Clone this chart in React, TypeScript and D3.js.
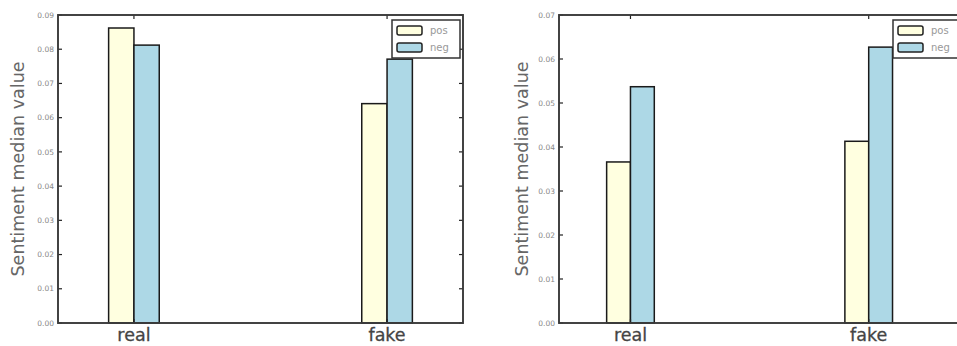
import React from "react";
import * as d3 from "d3";

const categories = ["real", "fake"];
const seriesNames = ["pos", "neg"];
const seriesColors = ["#ffffe0", "#add8e6"];
const leftPos = [0.0862, 0.0641];
const leftNeg = [0.0812, 0.0771];
const rightPos = [0.0366, 0.0413];
const rightNeg = [0.0537, 0.0627];
const leftTicks = [0, 0.01, 0.02, 0.03, 0.04, 0.05, 0.06, 0.07, 0.08, 0.09];
const rightTicks = [0, 0.01, 0.02, 0.03, 0.04, 0.05, 0.06, 0.07];
const yLabel = "Sentiment median value";

const FONT = "'DejaVu Sans', sans-serif";

type PanelProps = {
  x0: number;
  x1: number;
  y0: number;
  y1: number;
  xMax: number;
  yMax: number;
  ticks: number[];
  pos: number[];
  neg: number[];
  labelX: number;
};

function Panel({ x0, x1, y0, y1, xMax, yMax, ticks, pos, neg, labelX }: PanelProps) {
  const x = d3.scaleLinear().domain([-0.3, xMax]).range([x0, x1]);
  const y = d3.scaleLinear().domain([0, yMax]).range([y1, y0]);
  const w = 0.1;
  const series = [pos, neg];
  const tickLen = 4;
  const legW = 68;
  const legH = 38;
  const legX = x1 - 3 - legW;
  const legY = y0 + 5;
  return (
    <g>
      {series.map((vals, si) =>
        vals.map((v, ci) => (
          <rect
            key={`${si}-${ci}`}
            x={x(ci + (si === 0 ? -w : 0))}
            y={y(v)}
            width={x(ci + w) - x(ci)}
            height={y(0) - y(v)}
            fill={seriesColors[si]}
            stroke="#1a1a1a"
            strokeWidth={1.5}
          />
        ))
      )}
      {ticks.map((t) => (
        <g key={t}>
          <line x1={x0} x2={x0 + tickLen} y1={y(t)} y2={y(t)} stroke="#222" strokeWidth={1.2} />
          <line x1={x1} x2={x1 - tickLen} y1={y(t)} y2={y(t)} stroke="#222" strokeWidth={1.2} />
          <text
            x={x0 - 4}
            y={y(t)}
            dy="0.35em"
            textAnchor="end"
            fontFamily={FONT}
            fontSize={7.5}
            fill="#888"
          >
            {d3.format(".2f")(t)}
          </text>
        </g>
      ))}
      {categories.map((c, i) => (
        <g key={c}>
          <line x1={x(i)} x2={x(i)} y1={y1} y2={y1 - tickLen} stroke="#222" strokeWidth={1.2} />
          <line x1={x(i)} x2={x(i)} y1={y0} y2={y0 + tickLen} stroke="#222" strokeWidth={1.2} />
          <text
            x={x(i)}
            y={y1 + 18}
            textAnchor="middle"
            fontFamily={FONT}
            fontSize={17.5}
            fill="#444"
            stroke="#444"
            strokeWidth={0.3}
          >
            {c}
          </text>
        </g>
      ))}
      <rect x={x0} y={y0} width={x1 - x0} height={y1 - y0} fill="none" stroke="#3a3a3a" strokeWidth={1.9} />
      <rect x={legX} y={legY} width={legW} height={legH} fill="#fff" stroke="#333" strokeWidth={1.5} />
      {seriesNames.map((s, i) => (
        <g key={s}>
          <rect
            x={legX + 5}
            y={legY + 6 + i * 17}
            width={25}
            height={9}
            rx={2}
            fill={seriesColors[i]}
            stroke="#222"
            strokeWidth={1.5}
          />
          <text
            x={legX + 38}
            y={legY + 10.5 + i * 17}
            dy="0.35em"
            fontFamily={FONT}
            fontSize={10}
            fill="#999"
          >
            {s}
          </text>
        </g>
      ))}
      <text
        transform={`translate(${labelX},${(y0 + y1) / 2}) rotate(-90)`}
        textAnchor="middle"
        dy="0.35em"
        fontFamily={FONT}
        fontSize={17.5}
        fill="#666"
      >
        {yLabel}
      </text>
    </g>
  );
}

export default function App() {
  return (
    <svg
      width={957}
      height={346}
      style={{ position: "absolute", left: 0, top: 0, background: "#fff" }}
    >
      <rect width={957} height={346} fill="#fff" />
      <Panel
        x0={58}
        x1={463}
        y0={15}
        y1={323}
        xMax={1.3}
        yMax={0.09}
        ticks={leftTicks}
        pos={leftPos}
        neg={leftNeg}
        labelX={18}
      />
      <Panel
        x0={559}
        x1={964}
        y0={15}
        y1={323}
        xMax={1.4}
        yMax={0.07}
        ticks={rightTicks}
        pos={rightPos}
        neg={rightNeg}
        labelX={522}
      />
    </svg>
  );
}
